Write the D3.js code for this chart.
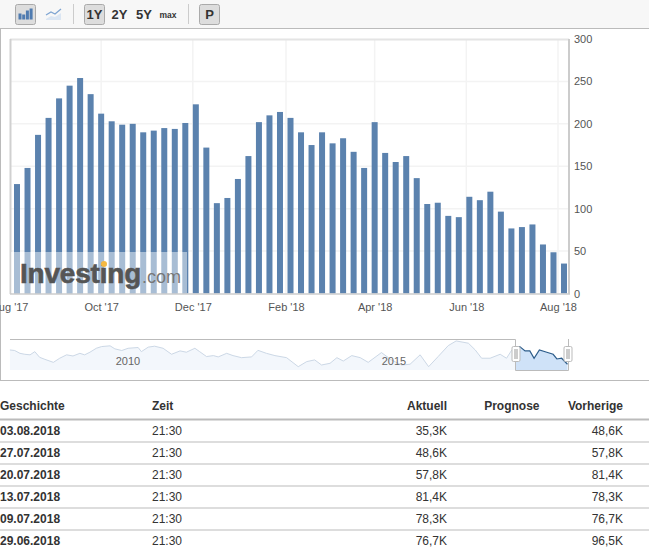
<!DOCTYPE html>
<meta charset="utf-8">
<style>
body { margin: 0; background: #fff; }
svg { display: block; font-family: "Liberation Sans", Arial, sans-serif; }
.axis path, .axis line { display: none; }
.axis text { fill: #555; font-size: 11px; font-family: "Liberation Sans", Arial, sans-serif; }
.grid { stroke: #f3f3f3; stroke-width: 1.5px; }
.tool { fill: #333; font-size: 13px; font-weight: bold; }
.btn { fill: #ddd; stroke: #aaa; stroke-width: 1px; }
.th { fill: #333; font-size: 12px; font-weight: bold; }
.td { fill: #333; font-size: 12px; }
</style>
<svg width="649" height="555"></svg>
<script src="https://cdnjs.cloudflare.com/ajax/libs/d3/7.8.5/d3.min.js"></script>

<script>
// weekly values, in thousands
var weeks = ["2017-08-06","2017-08-13","2017-08-20","2017-08-27","2017-09-03","2017-09-10","2017-09-17","2017-09-24","2017-10-01","2017-10-08","2017-10-15","2017-10-22","2017-10-29","2017-11-05","2017-11-12","2017-11-19","2017-11-26","2017-12-03","2017-12-10","2017-12-17","2017-12-24","2017-12-31","2018-01-07","2018-01-14","2018-01-21","2018-01-28","2018-02-04","2018-02-11","2018-02-18","2018-02-25","2018-03-04","2018-03-11","2018-03-18","2018-03-25","2018-04-01","2018-04-08","2018-04-15","2018-04-22","2018-04-29","2018-05-06","2018-05-13","2018-05-20","2018-05-27","2018-06-03","2018-06-10","2018-06-17","2018-06-24","2018-07-01","2018-07-08","2018-07-15","2018-07-22","2018-07-29","2018-08-05"];
var values = [129,148,187,207,230,245,254,235,212,203,199,200,190,192,195,194,201,223,172,106.5,112.6,135,162,202,210,214,207,190,175,190,177,183,167,148,202,165.7,155,162,136,105.5,107,91.5,90,114,110,120,96.5,76.7,78.3,81.4,57.8,48.6,35.3];
var yTicks = [0,50,100,150,200,250,300];
var xTickDates = ["2017-08-01","2017-10-01","2017-12-01","2018-02-01","2018-04-01","2018-06-01","2018-08-01"];

// navigator history
var navYears = [2008.06,2008.15,2008.25,2008.34,2008.44,2008.53,2008.62,2008.72,2008.88,2009.00,2009.13,2009.25,2009.38,2009.47,2009.57,2009.69,2009.79,2009.95,2010.04,2010.17,2010.29,2010.48,2010.54,2010.67,2010.79,2010.95,2011.11,2011.27,2011.39,2011.55,2011.64,2011.77,2011.90,2011.99,2012.15,2012.27,2012.43,2012.62,2012.74,2012.90,2013.06,2013.28,2013.50,2013.66,2013.81,2013.94,2014.10,2014.23,2014.35,2014.51,2014.67,2014.82,2015.07,2015.26,2015.45,2015.61,2015.80,2015.96,2016.14,2016.33,2016.48,2016.71,2016.84,2016.96,2017.12,2017.31,2017.43,2017.53,2017.68,2017.78,2017.87,2017.95,2018.05,2018.19,2018.31,2018.38,2018.47,2018.58];
var navValues = [112,109,94,89,86,103,73,62,46,68,86,80,94,86,100,121,130,134,118,109,121,125,103,127,132,121,89,107,100,121,103,77,82,75,94,82,71,75,110,94,82,71,23,50,59,32,41,71,53,82,71,46,98,59,32,36,86,23,77,135,160,148,112,68,68,89,68,112,130,107,107,68,112,100,89,64,68,36];

// table
var columns = ["Geschichte","Zeit","Aktuell","Prognose","Vorherige"];
var dates = ["03.08.2018","27.07.2018","20.07.2018","13.07.2018","09.07.2018","29.06.2018"];
var times = ["21:30","21:30","21:30","21:30","21:30","21:30"];
var actual = ["35,3K","48,6K","57,8K","81,4K","78,3K","76,7K"];
var forecast = ["","","","","",""];
var previous = ["48,6K","57,8K","81,4K","78,3K","76,7K","96,5K"];

var svg = d3.select("svg");
var parse = d3.utcParse("%Y-%m-%d");

// ---- toolbar
svg.append("rect").attr("width", 649).attr("height", 28).attr("fill", "#f7f7f7");
svg.append("path").attr("d", "M0,28.5H649M0.5,28V380M0,380.5H649").attr("fill", "none").attr("stroke", "#bbb");

svg.append("rect").attr("class", "btn").attr("x", 15.5).attr("y", 4.5).attr("width", 20).attr("height", 20).attr("rx", 2);
d3.range(4).forEach(function(i) {
  var h = [6, 5, 9, 11][i];
  svg.append("rect").attr("x", 18.5 + i * 3.7).attr("y", 19.5 - h).attr("width", 3).attr("height", h).attr("fill", "#4f7bb0");
});
svg.append("path").attr("d", "M46,15L51,12L55,14L61,9").attr("fill", "none").attr("stroke", "#7fa5d2").attr("stroke-width", 1.3);
svg.append("path").attr("d", "M46,19L51,16L55,17L61,13V20H46Z").attr("fill", "#dbe6f3");

svg.append("rect").attr("class", "btn").attr("x", 84.5).attr("y", 4.5).attr("width", 20).attr("height", 20).attr("rx", 2);
svg.append("rect").attr("class", "btn").attr("x", 199.5).attr("y", 4.5).attr("width", 20).attr("height", 20).attr("rx", 2);
svg.append("path").attr("d", "M73.5,4V24M188.5,4V24").attr("stroke", "#ccc");
[["1Y", 94.5], ["2Y", 119.5], ["5Y", 144], ["P", 209.5]].forEach(function(t) {
  svg.append("text").attr("class", "tool").attr("x", t[1]).attr("y", 19).attr("text-anchor", "middle").text(t[0]);
});
svg.append("text").attr("class", "tool").attr("x", 168).attr("y", 17.5).attr("text-anchor", "middle").style("font-size", "8.5px").text("max");

// ---- main chart
var x = d3.scaleUtc()
    .domain([parse(weeks[0]), parse(weeks[weeks.length - 1])])
    .range([17, 564]);
var y = d3.scaleLinear()
    .domain([0, 300])
    .range([293.5, 39]);

svg.append("g").selectAll("line").data(yTicks.slice(1, -1)).enter().append("line")
    .attr("class", "grid")
    .attr("x1", 10).attr("x2", 569)
    .attr("y1", function(d) { return y(d); })
    .attr("y2", function(d) { return y(d); });
svg.append("g").selectAll("line").data(xTickDates.slice(1)).enter().append("line")
    .attr("class", "grid")
    .attr("y1", 39).attr("y2", 293)
    .attr("x1", function(d) { return x(parse(d)); })
    .attr("x2", function(d) { return x(parse(d)); });

svg.append("path").attr("d", "M10,39.5H569").attr("stroke", "#e4e4e4").attr("stroke-width", 2);
svg.append("path").attr("d", "M10.5,39V294").attr("stroke", "#d0d0d0").attr("stroke-width", 2);

svg.append("g").selectAll("rect").data(values).enter().append("rect")
    .attr("x", function(d, i) { return x(parse(weeks[i])) - 3; })
    .attr("y", function(d) { return y(d); })
    .attr("width", 6)
    .attr("height", function(d) { return y(0) - y(d); })
    .attr("fill", "#5b82ae");

svg.append("path").attr("d", "M569,39V294").attr("stroke", "#ccc").attr("stroke-width", 2);
svg.append("path").attr("d", "M10,294H570").attr("stroke", "#ccc").attr("stroke-width", 1.5);

// watermark
svg.append("rect").attr("x", 11).attr("y", 252).attr("width", 176).attr("height", 41).attr("fill", "#fff").attr("fill-opacity", 0.47);
svg.append("text").attr("x", 20).attr("y", 283).attr("fill", "#555").attr("stroke", "#555").attr("stroke-width", 0.6).style("font-size", "28px").style("font-weight", "bold").style("letter-spacing", "-0.2px").text("Investing");
svg.append("text").attr("x", 142).attr("y", 283).attr("fill", "#777").style("font-size", "18px").text(".com");
svg.append("circle").attr("cx", 104).attr("cy", 264).attr("r", 3).attr("fill", "#f5b942");

svg.append("g")
    .attr("class", "axis")
    .attr("transform", "translate(569,0)")
    .call(d3.axisRight(y).tickValues(yTicks).tickSize(0).tickPadding(5));
svg.append("g")
    .attr("class", "axis")
    .attr("transform", "translate(0,294)")
    .call(d3.axisBottom(x).tickValues(xTickDates.map(parse)).tickSize(0).tickPadding(9).tickFormat(d3.utcFormat("%b '%y")));

// ---- navigator
var navX = d3.scaleLinear().domain([2018.59 - 558 / 53, 2018.59]).range([10, 568]);
var navY = d3.scaleLinear().domain([0, 165]).range([371, 340]);
var navData = navYears.map(function(d, i) { return [d, navValues[i]]; });
var navArea = d3.area().x(function(d) { return navX(d[0]); }).y0(370).y1(function(d) { return navY(d[1]); });
var navLine = d3.line().x(function(d) { return navX(d[0]); }).y(function(d) { return navY(d[1]); });

var defs = svg.append("defs");
defs.append("clipPath").attr("id", "sel").append("rect").attr("x", 516).attr("y", 335).attr("width", 52).attr("height", 40);
defs.append("clipPath").attr("id", "unsel").append("rect").attr("x", 0).attr("y", 335).attr("width", 516).attr("height", 40);

svg.append("rect").attr("x", 516).attr("y", 340).attr("width", 52).attr("height", 30).attr("fill", "#fff");
var navOut = svg.append("g").attr("clip-path", "url(#unsel)");
navOut.append("path").datum(navData).attr("d", navArea).attr("fill", "#f3f7fc");
navOut.append("path").datum(navData).attr("d", navLine).attr("fill", "none").attr("stroke", "#ccd8e6");
var navIn = svg.append("g").attr("clip-path", "url(#sel)");
navIn.append("path").datum(navData).attr("d", navArea).attr("fill", "#cfe2f8");
navIn.append("path").datum(navData).attr("d", navLine).attr("fill", "none").attr("stroke", "#2c5c8a").attr("stroke-width", 1.2);

svg.append("text").attr("x", 128).attr("y", 365).attr("text-anchor", "middle").attr("fill", "#666").style("font-size", "11px").text("2010");
svg.append("text").attr("x", 394).attr("y", 365).attr("text-anchor", "middle").attr("fill", "#666").style("font-size", "11px").text("2015");

svg.append("path").attr("d", "M10,339.5H515.5V370.5H568.5V339").attr("fill", "none").attr("stroke", "#bbb");
[516, 568].forEach(function(hx) {
  svg.append("rect").attr("x", hx - 4).attr("y", 346.5).attr("width", 8).attr("height", 15).attr("rx", 1.5).attr("fill", "#fff").attr("stroke", "#bbb");
  svg.append("rect").attr("x", hx - 2).attr("y", 349).attr("width", 4).attr("height", 10).attr("fill", "#ccc");
});

// ---- table
var colX = [0, 152, 447, 539.5, 623];
var colAnchor = ["start", "start", "end", "end", "end"];
var rowY = d3.scaleLinear().domain([0, 5]).range([431, 541]);

svg.selectAll(".th").data(columns).enter().append("text")
    .attr("class", "th")
    .attr("x", function(d, i) { return colX[i]; })
    .attr("y", 410)
    .attr("text-anchor", function(d, i) { return colAnchor[i]; })
    .text(function(d) { return d; });
svg.append("path").attr("d", "M0,419.5H649").attr("stroke", "#bbb").attr("stroke-width", 2);

dates.forEach(function(d, r) {
  var row = [d, times[r], actual[r], forecast[r], previous[r]];
  row.forEach(function(v, c) {
    svg.append("text")
        .attr("class", "td")
        .attr("x", colX[c])
        .attr("y", rowY(r) + 4)
        .attr("text-anchor", colAnchor[c])
        .style("font-weight", c == 0 ? "bold" : "normal")
        .text(v);
  });
  if (r < 5) {
    svg.append("line")
        .attr("x1", 0).attr("x2", 649)
        .attr("y1", rowY(r) + 11).attr("y2", rowY(r) + 11)
        .attr("stroke", "#bbb");
  }
});
</script>
